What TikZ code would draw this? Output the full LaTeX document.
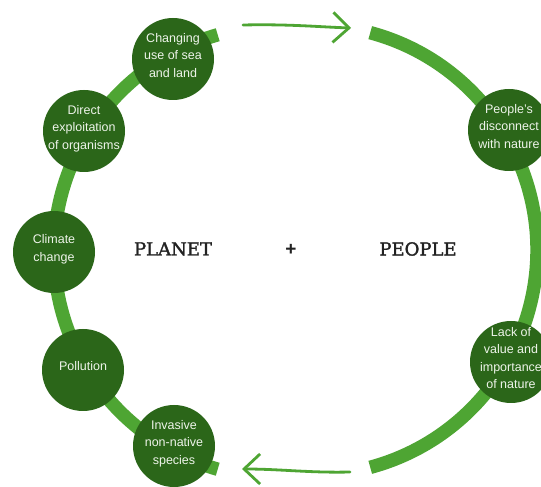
\documentclass[tikz,border=0pt]{standalone}
\usepackage{fontspec}
\setmainfont{Liberation Sans}
\newfontfamily\titlefont[FakeBold=1.6]{DejaVu Serif}
\usetikzlibrary{arrows.meta}
\definecolor{arcgreen}{HTML}{4EA533}
\definecolor{dotgreen}{HTML}{2B6619}
\definecolor{txtwhite}{HTML}{EEF4EA}
\definecolor{inkgray}{HTML}{222222}
\begin{document}
\begin{tikzpicture}[x=1pt,y=1pt,
  issue/.style={circle, fill=dotgreen, minimum size=82pt, inner sep=-14pt,
    text=txtwhite, align=center, text depth=8pt,
    font=\fontsize{12.5}{17.5}\selectfont},
  band/.style={draw=arcgreen, line width=13.5pt},
  flow/.style={draw=arcgreen, line width=2.8pt, line cap=round,
    -{Straight Barb[length=16pt,width=30pt,line width=2.8pt]}},
  title/.style={font=\titlefont\fontsize{18}{20}\selectfont, text=inkgray, inner sep=0pt}]
\useasboundingbox (0,0) rectangle (541,487);
\clip (0,0) rectangle (541,487);
\fill[white] (0,0) rectangle (541,487);

% bands
\draw[band] (280,235) ++(106:226) arc[start angle=106, end angle=254, radius=226];
\draw[band] (312,237) ++(75:225) arc[start angle=75, end angle=-75, radius=225];

% left issues
\node[issue] (chg) at (173,428) {Changing\\use of sea\\and land};
\node[issue] (dir) at (84,356) {Direct\\exploitation\\of organisms};
\node[issue] (cli) at (54,235) {Climate\\change};
\node[issue] (pol) at (83,117) {Pollution};
\node[issue] (inv) at (174,41) {Invasive\\non-native\\species};

% right issues
\node[issue] (dis) at (509,357) {People's\\disconnect\\with nature};
\node[issue] (lack) at (511,125) {Lack of\\value and\\importance\\of nature};

% titles
\node[title] (planet) at (173,238) {PLANET};
\node[title] (people) at (418,238) {PEOPLE};
\node[font=\fontsize{19}{20}\selectfont\bfseries, text=inkgray, inner sep=0pt] (plus) at (291,237) {+};

% flow arrows
\coordinate (ta) at (243,462);
\coordinate (tb) at (351,459);
\coordinate (ba) at (350,15);
\coordinate (bb) at (242,18);
\draw[flow] (ta) .. controls (290,463) and (320,460) .. (tb);
\draw[flow] (ba) .. controls (310,14) and (280,18) .. (bb);
\end{tikzpicture}
\end{document}
